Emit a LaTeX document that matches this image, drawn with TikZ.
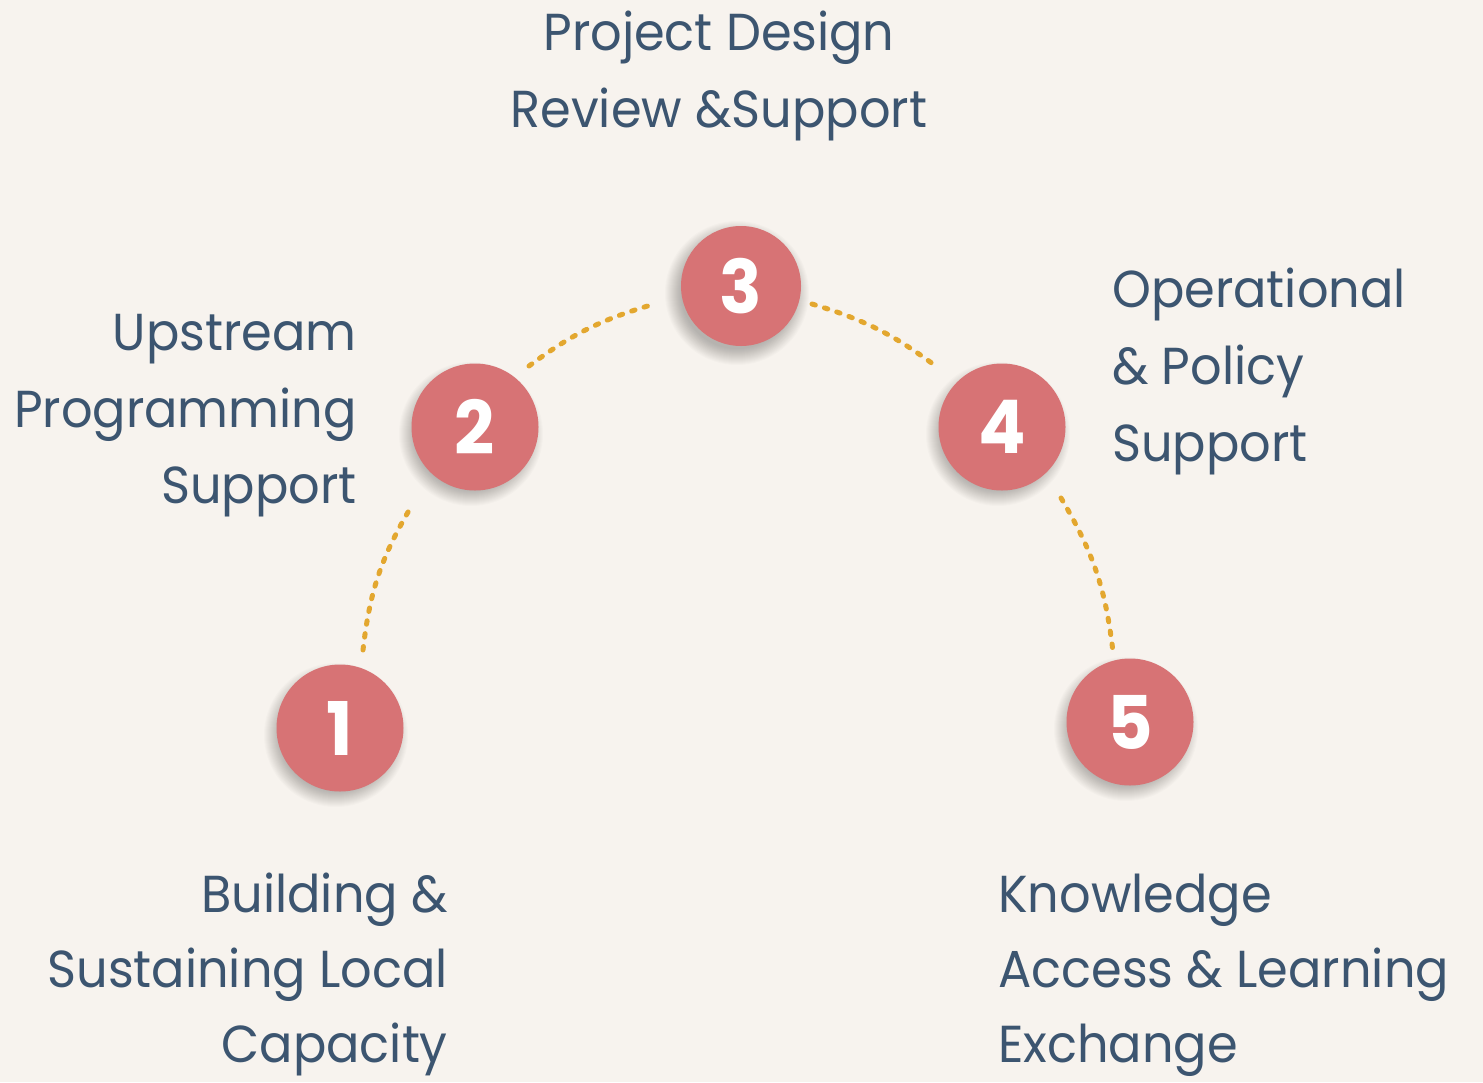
\documentclass[tikz,border=0pt]{standalone}
\usepackage{fontspec}
\setmainfont{Poppins}[FakeStretch=0.95]
\definecolor{bgc}{HTML}{F7F3EE}
\definecolor{circc}{HTML}{D77375}
\definecolor{txtc}{HTML}{3C5570}
\definecolor{dotc}{HTML}{E3A72F}
\begin{document}
\begin{tikzpicture}[x=1pt,y=-1pt,
  numc/.style={circle,fill=circc,minimum size=127pt,inner sep=0pt,text=white,font=\fontsize{74}{80}\selectfont\bfseries},
  lbl/.style={inner sep=0pt,text=txtc,font=\fontsize{52}{60}\selectfont},
  dotline/.style={dotc,line width=5pt,line cap=round,dash pattern=on 3.5pt off 9.5pt}]
\fill[bgc] (0,0) rectangle (1483,1082);
\useasboundingbox (0,0) rectangle (1483,1082);
% shadows
\foreach \cx/\cy in {340/728,475/427,741/286,1002/427,1130/722}{
  \foreach \k in {0,...,16}{
    \fill[black,opacity=0.017] (\cx-4,\cy+7) circle ({56+\k});
  }
}
\node[numc] (n1) at (340,728) {1};
\node[numc] (n2) at (475,427) {2};
\node[numc,minimum size=120pt] (n3) at (741,286) {3};
\node[numc] (n4) at (1002,427) {4};
\node[numc] (n5) at (1130,722) {5};
% dotted arcs
\coordinate (a1) at (363,650); \coordinate (a2) at (411,507);
\coordinate (b1) at (529,366); \coordinate (b2) at (651,305);
\coordinate (c1) at (812,304); \coordinate (c2) at (937,367);
\coordinate (d1) at (1061,498); \coordinate (d2) at (1113,652);
\draw[dotline] (a1) to[bend left=12] (a2);
\draw[dotline] (b1) to[bend left=10] (b2);
\draw[dotline] (c1) to[bend left=10] (c2);
\draw[dotline] (d1) to[bend left=12] (d2);
% labels
\node[lbl,anchor=base] (t3a) at (719,50) {Project Design};
\node[lbl,anchor=base] (t3b) at (719,127) {Review \&Support};
\node[lbl,anchor=base east] (t2a) at (357,350) {Upstream};
\node[lbl,anchor=base east] (t2b) at (357,427) {Programming};
\node[lbl,anchor=base east] (t2c) at (357,503) {Support};
\node[lbl,anchor=base west] (t4a) at (1112,307) {Operational};
\node[lbl,anchor=base west] (t4b) at (1112,384) {\& Policy};
\node[lbl,anchor=base west] (t4c) at (1112,461) {Support};
\node[lbl,anchor=base east] (t1a) at (448,912) {Building \&};
\node[lbl,anchor=base east] (t1b) at (448,987) {Sustaining Local};
\node[lbl,anchor=base east] (t1c) at (448,1062) {Capacity};
\node[lbl,anchor=base west] (t5a) at (998,912) {Knowledge};
\node[lbl,anchor=base west] (t5b) at (998,987) {Access \& Learning};
\node[lbl,anchor=base west] (t5c) at (998,1062) {Exchange};
\end{tikzpicture}
\end{document}
